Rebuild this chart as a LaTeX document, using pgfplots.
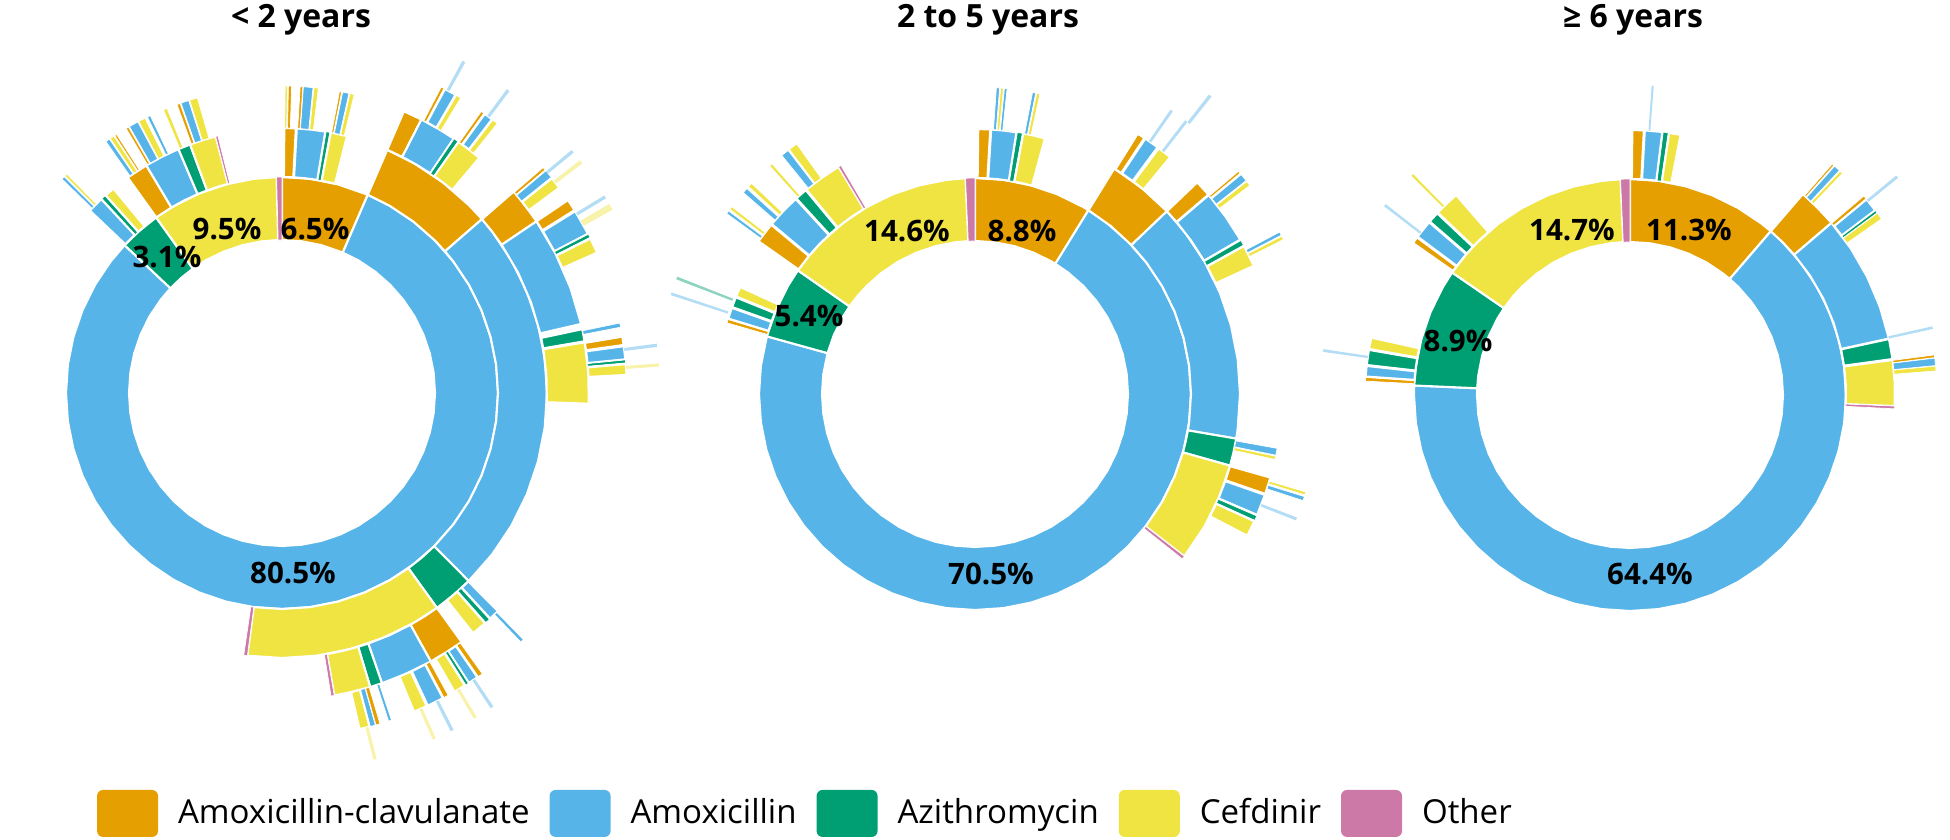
\documentclass[border=0pt]{standalone}
\usepackage{fontspec}
\setmainfont{Open Sans}
\usepackage{pgfplots}
\pgfplotsset{compat=1.18}
\definecolor{cO}{HTML}{E69F00}
\definecolor{cB}{HTML}{56B4E9}
\definecolor{cG}{HTML}{009E73}
\definecolor{cY}{HTML}{F0E442}
\definecolor{cP}{HTML}{CC79A7}
\pgfplotsset{
  seg/.style={draw=white, line width=0.6pt, line join=round, mark=none},
  ln/.style={draw=white, line width=0.2pt, mark=none},
  lt/.style={draw=none, mark=none, fill opacity=0.45},
  sun/.style={width=80mm, height=80mm, scale only axis, xmin=-400, xmax=400, ymin=-400, ymax=400, hide axis, clip=false, data cs=polar, anchor=origin},
}
\newcommand\pct{\fontsize{8.4}{10}\selectfont\bfseries}
\newcommand\ttl{\fontsize{9.1}{11}\selectfont\bfseries}
\begin{document}
\begin{tikzpicture}
% ================= chart 1 : < 2 years =================
\begin{axis}[sun, at={(28.2mm,44.7mm)},
  legend columns=5,
  legend cell align=left,
  legend style={at={(0.2688,-0.0256)}, anchor=west, draw=none, fill=none, inner sep=0pt, outer sep=0pt,
    column sep=2mm, font=\fontsize{9.4}{11}\selectfont, nodes={inner sep=0pt}},
  legend image code/.code={\fill[#1, draw=none, rounded corners=0.6mm] (0mm,-2.35mm) rectangle (6.1mm,2.35mm);}]
\addlegendimage{fill=cO, draw=none}
\addlegendimage{fill=cB, draw=none}
\addlegendimage{fill=cG, draw=none}
\addlegendimage{fill=cY, draw=none}
\addlegendimage{fill=cP, draw=none}
% ring 1
\addplot[seg,fill=cO] coordinates {(90,216)(82.5,216)(75,216)(66.6,216)(66.6,153)(75,153)(82.5,153)(90,153)} -- cycle;
\addplot[seg,fill=cB] coordinates {(66.6,216)(60,216)(52.5,216)(45,216)(37.5,216)(30,216)(22.5,216)(15,216)(7.5,216)(0,216)(-7.5,216)(-15,216)(-22.5,216)(-30,216)(-37.5,216)(-45,216)(-52.5,216)(-60,216)(-67.5,216)(-75,216)(-82.5,216)(-90,216)(-97.5,216)(-105,216)(-112.5,216)(-120,216)(-127.5,216)(-135,216)(-142.5,216)(-150,216)(-157.5,216)(-165,216)(-172.5,216)(-180,216)(-187.5,216)(-195,216)(-202.5,216)(-210,216)(-217.5,216)(-223.2,216)(-223.2,153)(-217.5,153)(-210,153)(-202.5,153)(-195,153)(-187.5,153)(-180,153)(-172.5,153)(-165,153)(-157.5,153)(-150,153)(-142.5,153)(-135,153)(-127.5,153)(-120,153)(-112.5,153)(-105,153)(-97.5,153)(-90,153)(-82.5,153)(-75,153)(-67.5,153)(-60,153)(-52.5,153)(-45,153)(-37.5,153)(-30,153)(-22.5,153)(-15,153)(-7.5,153)(0,153)(7.5,153)(15,153)(22.5,153)(30,153)(37.5,153)(45,153)(52.5,153)(60,153)(66.6,153)} -- cycle;
\addplot[seg,fill=cG] coordinates {(-223.2,216)(-228.8,216)(-234.36,216)(-234.36,153)(-228.8,153)(-223.2,153)} -- cycle;
\addplot[seg,fill=cY] coordinates {(-234.36,216)(-240,216)(-247.5,216)(-255,216)(-262.5,216)(-268.56,216)(-268.56,153)(-262.5,153)(-255,153)(-247.5,153)(-240,153)(-234.36,153)} -- cycle;
\addplot[ln,fill=cP] coordinates {(-268.56,216)(-270,216)(-270,153)(-268.56,153)} -- cycle;
% ring 2
\addplot[seg,fill=cO] coordinates {(89.5,265)(87,265)(87,216)(89.5,216)} -- cycle;
\addplot[seg,fill=cB] coordinates {(86.8,265)(83.7,265)(80.6,265)(80.6,216)(83.7,216)(86.8,216)} -- cycle;
\addplot[ln,fill=cG] coordinates {(80.4,265)(79.6,265)(79.6,216)(80.4,216)} -- cycle;
\addplot[seg,fill=cY] coordinates {(79.4,265)(75.8,265)(75.8,216)(79.4,216)} -- cycle;
\addplot[seg,fill=cO] coordinates {(66.6,265)(60,265)(52.5,265)(45,265)(41,265)(41,216)(45,216)(52.5,216)(60,216)(66.6,216)} -- cycle;
\addplot[seg,fill=cB] coordinates {(41,265)(37.5,265)(30,265)(22.5,265)(15,265)(7.5,265)(0,265)(-7.5,265)(-15,265)(-22.5,265)(-30,265)(-37.5,265)(-45.2,265)(-45.2,216)(-37.5,216)(-30,216)(-22.5,216)(-15,216)(-7.5,216)(0,216)(7.5,216)(15,216)(22.5,216)(30,216)(37.5,216)(41,216)} -- cycle;
\addplot[seg,fill=cG] coordinates {(-45.2,265)(-49.7,265)(-54.2,265)(-54.2,216)(-49.7,216)(-45.2,216)} -- cycle;
\addplot[seg,fill=cY] coordinates {(-54.2,265)(-60,265)(-67.5,265)(-75,265)(-82.5,265)(-90,265)(-97.5,265)(-97.5,216)(-90,216)(-82.5,216)(-75,216)(-67.5,216)(-60,216)(-54.2,216)} -- cycle;
\addplot[ln,fill=cP] coordinates {(-97.5,265)(-98.3,265)(-98.3,216)(-97.5,216)} -- cycle;
\addplot[seg,fill=cB] coordinates {(-223.5,265)(-227,265)(-227,216)(-223.5,216)} -- cycle;
\addplot[ln,fill=cG] coordinates {(-227.2,265)(-228.1,265)(-228.1,216)(-227.2,216)} -- cycle;
\addplot[seg,fill=cY] coordinates {(-228.3,265)(-230.5,265)(-230.5,216)(-228.3,216)} -- cycle;
\addplot[seg,fill=cO] coordinates {(-234.4,265)(-239.2,265)(-239.2,216)(-234.4,216)} -- cycle;
\addplot[seg,fill=cB] coordinates {(-239.2,265)(-243.1,265)(-247,265)(-247,216)(-243.1,216)(-239.2,216)} -- cycle;
\addplot[seg,fill=cG] coordinates {(-247,265)(-249.7,265)(-249.7,216)(-247,216)} -- cycle;
\addplot[seg,fill=cY] coordinates {(-249.7,265)(-252.6,265)(-255.5,265)(-255.5,216)(-252.6,216)(-249.7,216)} -- cycle;
\addplot[ln,fill=cP] coordinates {(-255.5,265)(-256,265)(-256,216)(-255.5,216)} -- cycle;
% ring 3
\addplot[seg,fill=cO] coordinates {(66.6,307)(63,307)(63,265)(66.6,265)} -- cycle;
\addplot[seg,fill=cB] coordinates {(63,307)(59.5,307)(56,307)(56,265)(59.5,265)(63,265)} -- cycle;
\addplot[ln,fill=cG] coordinates {(55.9,307)(55,307)(55,265)(55.9,265)} -- cycle;
\addplot[seg,fill=cY] coordinates {(54.9,307)(52.5,307)(50,307)(50,265)(52.5,265)(54.9,265)} -- cycle;
\addplot[seg,fill=cO] coordinates {(41,307)(37.5,307)(34,307)(34,265)(37.5,265)(41,265)} -- cycle;
\addplot[seg,fill=cB] coordinates {(34,307)(27,307)(20,307)(13,307)(13,265)(20,265)(27,265)(34,265)} -- cycle;
\addplot[seg,fill=cG] coordinates {(12,307)(9.7,307)(9.7,265)(12,265)} -- cycle;
\addplot[seg,fill=cY] coordinates {(9.5,307)(3.75,307)(-2,307)(-2,265)(3.75,265)(9.5,265)} -- cycle;
\addplot[seg,fill=cB] coordinates {(-45.3,307)(-47.3,307)(-47.3,265)(-45.3,265)} -- cycle;
\addplot[ln,fill=cG] coordinates {(-47.5,307)(-48.4,307)(-48.4,265)(-47.5,265)} -- cycle;
\addplot[seg,fill=cY] coordinates {(-48.6,307)(-51.5,307)(-51.5,265)(-48.6,265)} -- cycle;
\addplot[seg,fill=cO] coordinates {(-54.2,307)(-57.6,307)(-61,307)(-61,265)(-57.6,265)(-54.2,265)} -- cycle;
\addplot[seg,fill=cB] coordinates {(-61,307)(-66,307)(-71,307)(-71,265)(-66,265)(-61,265)} -- cycle;
\addplot[seg,fill=cG] coordinates {(-71,307)(-73.3,307)(-73.3,265)(-71,265)} -- cycle;
\addplot[seg,fill=cY] coordinates {(-73.3,307)(-76.75,307)(-80.2,307)(-80.2,265)(-76.75,265)(-73.3,265)} -- cycle;
\addplot[ln,fill=cP] coordinates {(-80.2,307)(-80.8,307)(-80.8,265)(-80.2,265)} -- cycle;
\addplot[ln,fill=cB] coordinates {(-224.2,307)(-224.8,307)(-224.8,265)(-224.2,265)} -- cycle;
\addplot[ln,fill=cY] coordinates {(-225,307)(-225.5,307)(-225.5,265)(-225,265)} -- cycle;
\addplot[ln,fill=cB] coordinates {(-235,307)(-235.8,307)(-235.8,265)(-235,265)} -- cycle;
\addplot[ln,fill=cY] coordinates {(-236,307)(-236.8,307)(-236.8,265)(-236,265)} -- cycle;
\addplot[ln,fill=cO] coordinates {(-237,307)(-237.4,307)(-237.4,265)(-237,265)} -- cycle;
\addplot[ln,fill=cO] coordinates {(-239.5,307)(-240,307)(-240,265)(-239.5,265)} -- cycle;
\addplot[ln,fill=cB] coordinates {(-240.2,307)(-242,307)(-242,265)(-240.2,265)} -- cycle;
\addplot[ln,fill=cY] coordinates {(-242.2,307)(-243.5,307)(-243.5,265)(-242.2,265)} -- cycle;
\addplot[ln,fill=cB] coordinates {(-244,307)(-244.6,307)(-244.6,265)(-244,265)} -- cycle;
\addplot[ln,fill=cY] coordinates {(-247.3,307)(-248,307)(-248,265)(-247.3,265)} -- cycle;
\addplot[ln,fill=cO] coordinates {(-250,307)(-250.6,307)(-250.6,265)(-250,265)} -- cycle;
\addplot[ln,fill=cB] coordinates {(-250.8,307)(-252.3,307)(-252.3,265)(-250.8,265)} -- cycle;
\addplot[ln,fill=cY] coordinates {(-252.5,307)(-254,307)(-254,265)(-252.5,265)} -- cycle;
\addplot[ln,fill=cY] coordinates {(89.4,307)(89,307)(89,265)(89.4,265)} -- cycle;
\addplot[ln,fill=cO] coordinates {(88.8,307)(88.2,307)(88.2,265)(88.8,265)} -- cycle;
\addplot[ln,fill=cO] coordinates {(86.6,307)(86.1,307)(86.1,265)(86.6,265)} -- cycle;
\addplot[ln,fill=cB] coordinates {(86,307)(84.2,307)(84.2,265)(86,265)} -- cycle;
\addplot[ln,fill=cY] coordinates {(84,307)(83.2,307)(83.2,265)(84,265)} -- cycle;
\addplot[ln,fill=cO] coordinates {(79.2,307)(78.8,307)(78.8,265)(79.2,265)} -- cycle;
\addplot[ln,fill=cB] coordinates {(78.6,307)(77.4,307)(77.4,265)(78.6,265)} -- cycle;
\addplot[ln,fill=cY] coordinates {(77.2,307)(76.4,307)(76.4,265)(77.2,265)} -- cycle;
% ring 4
\addplot[ln,fill=cO] coordinates {(62.5,345)(62,345)(62,307)(62.5,307)} -- cycle;
\addplot[seg,fill=cB] coordinates {(61.8,345)(59.8,345)(59.8,307)(61.8,307)} -- cycle;
\addplot[ln,fill=cY] coordinates {(59.6,345)(58.8,345)(58.8,307)(59.6,307)} -- cycle;
\addplot[ln,fill=cO] coordinates {(54.7,345)(54.2,345)(54.2,307)(54.7,307)} -- cycle;
\addplot[seg,fill=cB] coordinates {(54,345)(52.5,345)(52.5,307)(54,307)} -- cycle;
\addplot[ln,fill=cY] coordinates {(52.3,345)(51.4,345)(51.4,307)(52.3,307)} -- cycle;
\addplot[ln,fill=cO] coordinates {(40.8,345)(40.3,345)(40.3,307)(40.8,307)} -- cycle;
\addplot[ln,fill=cB] coordinates {(40.1,345)(38.7,345)(38.7,307)(40.1,307)} -- cycle;
\addplot[seg,fill=cY] coordinates {(38.5,345)(36.5,345)(36.5,307)(38.5,307)} -- cycle;
\addplot[seg,fill=cO] coordinates {(34,345)(32,345)(32,307)(34,307)} -- cycle;
\addplot[seg,fill=cB] coordinates {(31.8,345)(27.5,345)(27.5,307)(31.8,307)} -- cycle;
\addplot[ln,fill=cG] coordinates {(27.4,345)(26.8,345)(26.8,307)(27.4,307)} -- cycle;
\addplot[seg,fill=cY] coordinates {(26.6,345)(24,345)(24,307)(26.6,307)} -- cycle;
\addplot[ln,fill=cB] coordinates {(11.7,345)(11,345)(11,307)(11.7,307)} -- cycle;
\addplot[seg,fill=cO] coordinates {(9.4,345)(8,345)(8,307)(9.4,307)} -- cycle;
\addplot[seg,fill=cB] coordinates {(7.8,345)(5.6,345)(5.6,307)(7.8,307)} -- cycle;
\addplot[ln,fill=cG] coordinates {(5.5,345)(5,345)(5,307)(5.5,307)} -- cycle;
\addplot[seg,fill=cY] coordinates {(4.8,345)(3,345)(3,307)(4.8,307)} -- cycle;
\addplot[ln,fill=cB] coordinates {(-45.6,345)(-46.2,345)(-46.2,307)(-45.6,307)} -- cycle;
\addplot[ln,fill=cO] coordinates {(-54.5,345)(-55.3,345)(-55.3,307)(-54.5,307)} -- cycle;
\addplot[seg,fill=cB] coordinates {(-55.5,345)(-57.2,345)(-57.2,307)(-55.5,307)} -- cycle;
\addplot[ln,fill=cG] coordinates {(-57.3,345)(-57.8,345)(-57.8,307)(-57.3,307)} -- cycle;
\addplot[seg,fill=cY] coordinates {(-58,345)(-60,345)(-60,307)(-58,307)} -- cycle;
\addplot[ln,fill=cO] coordinates {(-61.2,345)(-62,345)(-62,307)(-61.2,307)} -- cycle;
\addplot[seg,fill=cB] coordinates {(-62.2,345)(-65,345)(-65,307)(-62.2,307)} -- cycle;
\addplot[seg,fill=cY] coordinates {(-65.2,345)(-67.5,345)(-67.5,307)(-65.2,307)} -- cycle;
\addplot[ln,fill=cB] coordinates {(-71.5,345)(-72,345)(-72,307)(-71.5,307)} -- cycle;
\addplot[ln,fill=cO] coordinates {(-73.5,345)(-74.2,345)(-74.2,307)(-73.5,307)} -- cycle;
\addplot[ln,fill=cB] coordinates {(-74.3,345)(-75.2,345)(-75.2,307)(-74.3,307)} -- cycle;
\addplot[seg,fill=cY] coordinates {(-75.3,345)(-77,345)(-77,307)(-75.3,307)} -- cycle;
% ring 5 (faint)
\addplot[lt,fill=cB] coordinates {(61.5,378)(61,378)(61,345)(61.5,345)} -- cycle;
\addplot[lt,fill=cB] coordinates {(53.5,378)(53,378)(53,345)(53.5,345)} -- cycle;
\addplot[lt,fill=cB] coordinates {(40,378)(39.5,378)(39.5,345)(40,345)} -- cycle;
\addplot[lt,fill=cY] coordinates {(38,378)(37.4,378)(37.4,345)(38,345)} -- cycle;
\addplot[lt,fill=cB] coordinates {(31.5,378)(31,378)(31,345)(31.5,345)} -- cycle;
\addplot[lt,fill=cY] coordinates {(30,378)(29,378)(29,345)(30,345)} -- cycle;
\addplot[lt,fill=cB] coordinates {(7.5,378)(7,378)(7,345)(7.5,345)} -- cycle;
\addplot[lt,fill=cY] coordinates {(4.5,378)(4,378)(4,345)(4.5,345)} -- cycle;
\addplot[lt,fill=cB] coordinates {(-56,378)(-56.5,378)(-56.5,345)(-56,345)} -- cycle;
\addplot[lt,fill=cY] coordinates {(-59,378)(-59.5,378)(-59.5,345)(-59,345)} -- cycle;
\addplot[lt,fill=cB] coordinates {(-63,378)(-63.5,378)(-63.5,345)(-63,345)} -- cycle;
\addplot[lt,fill=cY] coordinates {(-66,378)(-66.5,378)(-66.5,345)(-66,345)} -- cycle;
\addplot[lt,fill=cY] coordinates {(-75.5,378)(-76,378)(-76,345)(-75.5,345)} -- cycle;
\legend{Amoxicillin-clavulanate, Amoxicillin, Azithromycin, Cefdinir, Other}
\end{axis}
% ================= chart 2 : 2 to 5 years =================
\begin{axis}[sun, at={(97.5mm,44.6mm)}]
\addplot[seg,fill=cO] coordinates {(90,216)(82.5,216)(75,216)(67.5,216)(60,216)(58.32,216)(58.32,153)(60,153)(67.5,153)(75,153)(82.5,153)(90,153)} -- cycle;
\addplot[seg,fill=cB] coordinates {(58.32,216)(52.5,216)(45,216)(37.5,216)(30,216)(22.5,216)(15,216)(7.5,216)(0,216)(-7.5,216)(-15,216)(-22.5,216)(-30,216)(-37.5,216)(-45,216)(-52.5,216)(-60,216)(-67.5,216)(-75,216)(-82.5,216)(-90,216)(-97.5,216)(-105,216)(-112.5,216)(-120,216)(-127.5,216)(-135,216)(-142.5,216)(-150,216)(-157.5,216)(-165,216)(-172.5,216)(-180,216)(-187.5,216)(-195.48,216)(-195.48,153)(-187.5,153)(-180,153)(-172.5,153)(-165,153)(-157.5,153)(-150,153)(-142.5,153)(-135,153)(-127.5,153)(-120,153)(-112.5,153)(-105,153)(-97.5,153)(-90,153)(-82.5,153)(-75,153)(-67.5,153)(-60,153)(-52.5,153)(-45,153)(-37.5,153)(-30,153)(-22.5,153)(-15,153)(-7.5,153)(0,153)(7.5,153)(15,153)(22.5,153)(30,153)(37.5,153)(45,153)(52.5,153)(58.32,153)} -- cycle;
\addplot[seg,fill=cG] coordinates {(-195.48,216)(-202.5,216)(-210,216)(-214.92,216)(-214.92,153)(-210,153)(-202.5,153)(-195.48,153)} -- cycle;
\addplot[seg,fill=cY] coordinates {(-214.92,216)(-220,216)(-225,216)(-232.5,216)(-240,216)(-247.5,216)(-255,216)(-262.5,216)(-267.48,216)(-267.48,153)(-262.5,153)(-255,153)(-247.5,153)(-240,153)(-232.5,153)(-225,153)(-220,153)(-214.92,153)} -- cycle;
\addplot[ln,fill=cP] coordinates {(-267.48,216)(-270,216)(-270,153)(-267.48,153)} -- cycle;
% ring 2
\addplot[seg,fill=cO] coordinates {(89.3,265)(86.7,265)(86.7,216)(89.3,216)} -- cycle;
\addplot[seg,fill=cB] coordinates {(86.5,265)(83.75,265)(81,265)(81,216)(83.75,216)(86.5,216)} -- cycle;
\addplot[ln,fill=cG] coordinates {(80.8,265)(79.7,265)(79.7,216)(80.8,216)} -- cycle;
\addplot[seg,fill=cY] coordinates {(79.5,265)(77.1,265)(74.7,265)(74.7,216)(77.1,216)(79.5,216)} -- cycle;
\addplot[seg,fill=cO] coordinates {(58.3,265)(51,265)(43.6,265)(43.6,216)(51,216)(58.3,216)} -- cycle;
\addplot[seg,fill=cB] coordinates {(43.6,265)(37.5,265)(30,265)(22.5,265)(15,265)(7.5,265)(0,265)(-7.5,265)(-9.7,265)(-9.7,216)(-7.5,216)(0,216)(7.5,216)(15,216)(22.5,216)(30,216)(37.5,216)(43.6,216)} -- cycle;
\addplot[seg,fill=cG] coordinates {(-9.7,265)(-12.7,265)(-15.7,265)(-15.7,216)(-12.7,216)(-9.7,216)} -- cycle;
\addplot[seg,fill=cY] coordinates {(-15.7,265)(-22.5,265)(-30,265)(-37.8,265)(-37.8,216)(-30,216)(-22.5,216)(-15.7,216)} -- cycle;
\addplot[ln,fill=cP] coordinates {(-37.8,265)(-38.5,265)(-38.5,216)(-37.8,216)} -- cycle;
\addplot[ln,fill=cO] coordinates {(-196,258)(-196.8,258)(-196.8,216)(-196,216)} -- cycle;
\addplot[seg,fill=cB] coordinates {(-197,258)(-199.5,258)(-199.5,216)(-197,216)} -- cycle;
\addplot[seg,fill=cG] coordinates {(-199.7,258)(-202,258)(-202,216)(-199.7,216)} -- cycle;
\addplot[seg,fill=cY] coordinates {(-202.2,258)(-204.5,258)(-204.5,216)(-202.2,216)} -- cycle;
\addplot[seg,fill=cO] coordinates {(-215.2,265)(-219.7,265)(-219.7,216)(-215.2,216)} -- cycle;
\addplot[seg,fill=cB] coordinates {(-219.9,265)(-223.6,265)(-227.4,265)(-227.4,216)(-223.6,216)(-219.9,216)} -- cycle;
\addplot[seg,fill=cG] coordinates {(-227.6,265)(-230.3,265)(-230.3,216)(-227.6,216)} -- cycle;
\addplot[seg,fill=cY] coordinates {(-230.5,265)(-234.75,265)(-239,265)(-239,216)(-234.75,216)(-230.5,216)} -- cycle;
\addplot[ln,fill=cP] coordinates {(-239,265)(-239.6,265)(-239.6,216)(-239,216)} -- cycle;
% ring 3
\addplot[ln,fill=cB] coordinates {(86,307)(85.4,307)(85.4,265)(86,265)} -- cycle;
\addplot[ln,fill=cY] coordinates {(85.2,307)(84.7,307)(84.7,265)(85.2,265)} -- cycle;
\addplot[ln,fill=cB] coordinates {(84.5,307)(84,307)(84,265)(84.5,265)} -- cycle;
\addplot[ln,fill=cB] coordinates {(79.2,307)(78.6,307)(78.6,265)(79.2,265)} -- cycle;
\addplot[ln,fill=cY] coordinates {(78.4,307)(77.8,307)(77.8,265)(78.4,265)} -- cycle;
\addplot[seg,fill=cO] coordinates {(58,307)(56.5,307)(56.5,265)(58,265)} -- cycle;
\addplot[seg,fill=cB] coordinates {(56.3,307)(53.5,307)(53.5,265)(56.3,265)} -- cycle;
\addplot[seg,fill=cY] coordinates {(53.2,307)(50.5,307)(50.5,265)(53.2,265)} -- cycle;
\addplot[seg,fill=cO] coordinates {(43.6,307)(40.5,307)(40.5,265)(43.6,265)} -- cycle;
\addplot[seg,fill=cB] coordinates {(40.4,307)(35.3,307)(30.2,307)(30.2,265)(35.3,265)(40.4,265)} -- cycle;
\addplot[ln,fill=cG] coordinates {(30,307)(29,307)(29,265)(30,265)} -- cycle;
\addplot[seg,fill=cY] coordinates {(28.8,307)(24.7,307)(24.7,265)(28.8,265)} -- cycle;
\addplot[ln,fill=cB] coordinates {(-10.2,307)(-11.5,307)(-11.5,265)(-10.2,265)} -- cycle;
\addplot[ln,fill=cY] coordinates {(-11.7,307)(-12.3,307)(-12.3,265)(-11.7,265)} -- cycle;
\addplot[seg,fill=cO] coordinates {(-15.8,307)(-19,307)(-19,265)(-15.8,265)} -- cycle;
\addplot[seg,fill=cB] coordinates {(-19.2,307)(-23.2,307)(-23.2,265)(-19.2,265)} -- cycle;
\addplot[ln,fill=cG] coordinates {(-23.4,307)(-24.3,307)(-24.3,265)(-23.4,265)} -- cycle;
\addplot[seg,fill=cY] coordinates {(-24.5,307)(-27.5,307)(-27.5,265)(-24.5,265)} -- cycle;
\addplot[lt,fill=cB] coordinates {(-198,320)(-198.5,320)(-198.5,260)(-198,260)} -- cycle;
\addplot[lt,fill=cG] coordinates {(-201,320)(-201.5,320)(-201.5,260)(-201,260)} -- cycle;
\addplot[ln,fill=cB] coordinates {(-216,307)(-216.6,307)(-216.6,265)(-216,265)} -- cycle;
\addplot[ln,fill=cY] coordinates {(-217,307)(-217.6,307)(-217.6,265)(-217,265)} -- cycle;
\addplot[ln,fill=cB] coordinates {(-221,307)(-222,307)(-222,265)(-221,265)} -- cycle;
\addplot[ln,fill=cY] coordinates {(-222.5,307)(-223.3,307)(-223.3,265)(-222.5,265)} -- cycle;
\addplot[ln,fill=cY] coordinates {(-228,307)(-228.6,307)(-228.6,265)(-228,265)} -- cycle;
\addplot[ln,fill=cB] coordinates {(-231,307)(-232.5,307)(-232.5,265)(-231,265)} -- cycle;
\addplot[ln,fill=cY] coordinates {(-232.8,307)(-234.5,307)(-234.5,265)(-232.8,265)} -- cycle;
% ring 4
\addplot[lt,fill=cB] coordinates {(55.5,345)(55,345)(55,307)(55.5,307)} -- cycle;
\addplot[lt,fill=cB] coordinates {(52.5,345)(52,345)(52,307)(52.5,307)} -- cycle;
\addplot[ln,fill=cO] coordinates {(40.2,345)(39.8,345)(39.8,307)(40.2,307)} -- cycle;
\addplot[ln,fill=cB] coordinates {(39.5,345)(38.2,345)(38.2,307)(39.5,307)} -- cycle;
\addplot[ln,fill=cY] coordinates {(38,345)(37.2,345)(37.2,307)(38,307)} -- cycle;
\addplot[ln,fill=cB] coordinates {(28,345)(27.4,345)(27.4,307)(28,307)} -- cycle;
\addplot[ln,fill=cY] coordinates {(27.2,345)(26.6,345)(26.6,307)(27.2,307)} -- cycle;
\addplot[ln,fill=cY] coordinates {(-16.5,345)(-17,345)(-17,307)(-16.5,307)} -- cycle;
\addplot[ln,fill=cB] coordinates {(-17.3,345)(-18,345)(-18,307)(-17.3,307)} -- cycle;
\addplot[lt,fill=cB] coordinates {(-21,345)(-21.5,345)(-21.5,307)(-21,307)} -- cycle;
\addplot[lt,fill=cB] coordinates {(52,380)(51.5,380)(51.5,345)(52,345)} -- cycle;
\end{axis}
% ================= chart 3 : >= 6 years =================
\begin{axis}[sun, at={(163mm,44.5mm)}]
\addplot[seg,fill=cO] coordinates {(90,216)(82.5,216)(75,216)(67.5,216)(60,216)(52.5,216)(49.32,216)(49.32,153)(52.5,153)(60,153)(67.5,153)(75,153)(82.5,153)(90,153)} -- cycle;
\addplot[seg,fill=cB] coordinates {(49.32,216)(45,216)(37.5,216)(30,216)(22.5,216)(15,216)(7.5,216)(0,216)(-7.5,216)(-15,216)(-22.5,216)(-30,216)(-37.5,216)(-45,216)(-52.5,216)(-60,216)(-67.5,216)(-75,216)(-82.5,216)(-90,216)(-97.5,216)(-105,216)(-112.5,216)(-120,216)(-127.5,216)(-135,216)(-142.5,216)(-150,216)(-157.5,216)(-165,216)(-172.5,216)(-180,216)(-182.52,216)(-182.52,153)(-180,153)(-172.5,153)(-165,153)(-157.5,153)(-150,153)(-142.5,153)(-135,153)(-127.5,153)(-120,153)(-112.5,153)(-105,153)(-97.5,153)(-90,153)(-82.5,153)(-75,153)(-67.5,153)(-60,153)(-52.5,153)(-45,153)(-37.5,153)(-30,153)(-22.5,153)(-15,153)(-7.5,153)(0,153)(7.5,153)(15,153)(22.5,153)(30,153)(37.5,153)(45,153)(49.32,153)} -- cycle;
\addplot[seg,fill=cG] coordinates {(-182.52,216)(-187.5,216)(-195,216)(-202.5,216)(-210,216)(-214.56,216)(-214.56,153)(-210,153)(-202.5,153)(-195,153)(-187.5,153)(-182.52,153)} -- cycle;
\addplot[seg,fill=cY] coordinates {(-214.56,216)(-220,216)(-225,216)(-232.5,216)(-240,216)(-247.5,216)(-255,216)(-262.5,216)(-267.48,216)(-267.48,153)(-262.5,153)(-255,153)(-247.5,153)(-240,153)(-232.5,153)(-225,153)(-220,153)(-214.56,153)} -- cycle;
\addplot[ln,fill=cP] coordinates {(-267.48,216)(-270,216)(-270,153)(-267.48,153)} -- cycle;
% ring 2
\addplot[seg,fill=cO] coordinates {(89.5,265)(87,265)(87,216)(89.5,216)} -- cycle;
\addplot[seg,fill=cB] coordinates {(86.8,265)(83,265)(83,216)(86.8,216)} -- cycle;
\addplot[ln,fill=cG] coordinates {(82.8,265)(81.7,265)(81.7,216)(82.8,216)} -- cycle;
\addplot[seg,fill=cY] coordinates {(81.5,265)(79,265)(79,216)(81.5,216)} -- cycle;
\addplot[seg,fill=cO] coordinates {(49.3,265)(44.9,265)(40.5,265)(40.5,216)(44.9,216)(49.3,216)} -- cycle;
\addplot[seg,fill=cB] coordinates {(40.5,265)(33.5,265)(26.5,265)(19.4,265)(12.3,265)(12.3,216)(19.4,216)(26.5,216)(33.5,216)(40.5,216)} -- cycle;
\addplot[seg,fill=cG] coordinates {(12.2,265)(7.8,265)(7.8,216)(12.2,216)} -- cycle;
\addplot[seg,fill=cY] coordinates {(7.6,265)(2.6,265)(-2.4,265)(-2.4,216)(2.6,216)(7.6,216)} -- cycle;
\addplot[ln,fill=cP] coordinates {(-2.4,265)(-3,265)(-3,216)(-2.4,216)} -- cycle;
\addplot[ln,fill=cO] coordinates {(-183,265)(-183.8,265)(-183.8,216)(-183,216)} -- cycle;
\addplot[seg,fill=cB] coordinates {(-184,265)(-186.3,265)(-186.3,216)(-184,216)} -- cycle;
\addplot[seg,fill=cG] coordinates {(-186.5,265)(-189.8,265)(-189.8,216)(-186.5,216)} -- cycle;
\addplot[seg,fill=cY] coordinates {(-190,265)(-192.5,265)(-192.5,216)(-190,216)} -- cycle;
\addplot[seg,fill=cO] coordinates {(-215,265)(-216.5,265)(-216.5,216)(-215,216)} -- cycle;
\addplot[seg,fill=cB] coordinates {(-216.7,265)(-220.7,265)(-220.7,216)(-216.7,216)} -- cycle;
\addplot[seg,fill=cG] coordinates {(-220.9,265)(-223.3,265)(-223.3,216)(-220.9,216)} -- cycle;
\addplot[seg,fill=cY] coordinates {(-223.5,265)(-226.25,265)(-229,265)(-229,216)(-226.25,216)(-223.5,216)} -- cycle;
% ring 3
\addplot[lt,fill=cB] coordinates {(86,310)(85.6,310)(85.6,265)(86,265)} -- cycle;
\addplot[ln,fill=cO] coordinates {(48.8,307)(48.4,307)(48.4,265)(48.8,265)} -- cycle;
\addplot[ln,fill=cB] coordinates {(48.2,307)(47,307)(47,265)(48.2,265)} -- cycle;
\addplot[ln,fill=cY] coordinates {(46.8,307)(46.2,307)(46.2,265)(46.8,265)} -- cycle;
\addplot[ln,fill=cO] coordinates {(40.4,307)(39.7,307)(39.7,265)(40.4,265)} -- cycle;
\addplot[seg,fill=cB] coordinates {(39.6,307)(37,307)(37,265)(39.6,265)} -- cycle;
\addplot[ln,fill=cG] coordinates {(36.9,307)(36.4,307)(36.4,265)(36.9,265)} -- cycle;
\addplot[ln,fill=cY] coordinates {(36.3,307)(35,307)(35,265)(36.3,265)} -- cycle;
\addplot[lt,fill=cB] coordinates {(12.8,310)(12.3,310)(12.3,265)(12.8,265)} -- cycle;
\addplot[ln,fill=cO] coordinates {(7.5,307)(7,307)(7,265)(7.5,265)} -- cycle;
\addplot[ln,fill=cB] coordinates {(6.9,307)(5.5,307)(5.5,265)(6.9,265)} -- cycle;
\addplot[ln,fill=cY] coordinates {(5.4,307)(4.5,307)(4.5,265)(5.4,265)} -- cycle;
\addplot[lt,fill=cB] coordinates {(-188,310)(-188.5,310)(-188.5,265)(-188,265)} -- cycle;
\addplot[lt,fill=cB] coordinates {(-217.5,310)(-218,310)(-218,265)(-217.5,265)} -- cycle;
\addplot[ln,fill=cY] coordinates {(-225,310)(-225.6,310)(-225.6,265)(-225,265)} -- cycle;
\addplot[lt,fill=cB] coordinates {(39.5,345)(39,345)(39,307)(39.5,307)} -- cycle;
\end{axis}
% ================= texts =================
\node[font=\ttl, anchor=base] at (30.1mm,81.2mm) {< 2 years};
\node[font=\ttl, anchor=base] at (98.8mm,81.2mm) {2 to 5 years};
\node[font=\ttl, anchor=base] at (163.3mm,81.2mm) {≥ 6 years};
\node[font=\pct] at (31.5mm,61.1mm) {6.5\%};
\node[font=\pct] at (22.7mm,61.1mm) {9.5\%};
\node[font=\pct] at (16.7mm,58.3mm) {3.1\%};
\node[font=\pct] at (29.3mm,26.7mm) {80.5\%};
\node[font=\pct] at (90.7mm,60.9mm) {14.6\%};
\node[font=\pct] at (102.2mm,60.9mm) {8.8\%};
\node[font=\pct] at (80.9mm,52.4mm) {5.4\%};
\node[font=\pct] at (99.1mm,26.6mm) {70.5\%};
\node[font=\pct] at (157.2mm,61.0mm) {14.7\%};
\node[font=\pct] at (168.9mm,61.0mm) {11.3\%};
\node[font=\pct] at (145.8mm,49.9mm) {8.9\%};
\node[font=\pct] at (165.0mm,26.6mm) {64.4\%};
\pgfresetboundingbox
\path[use as bounding box] (0,0) rectangle (195mm,84mm);
\end{tikzpicture}
\end{document}
